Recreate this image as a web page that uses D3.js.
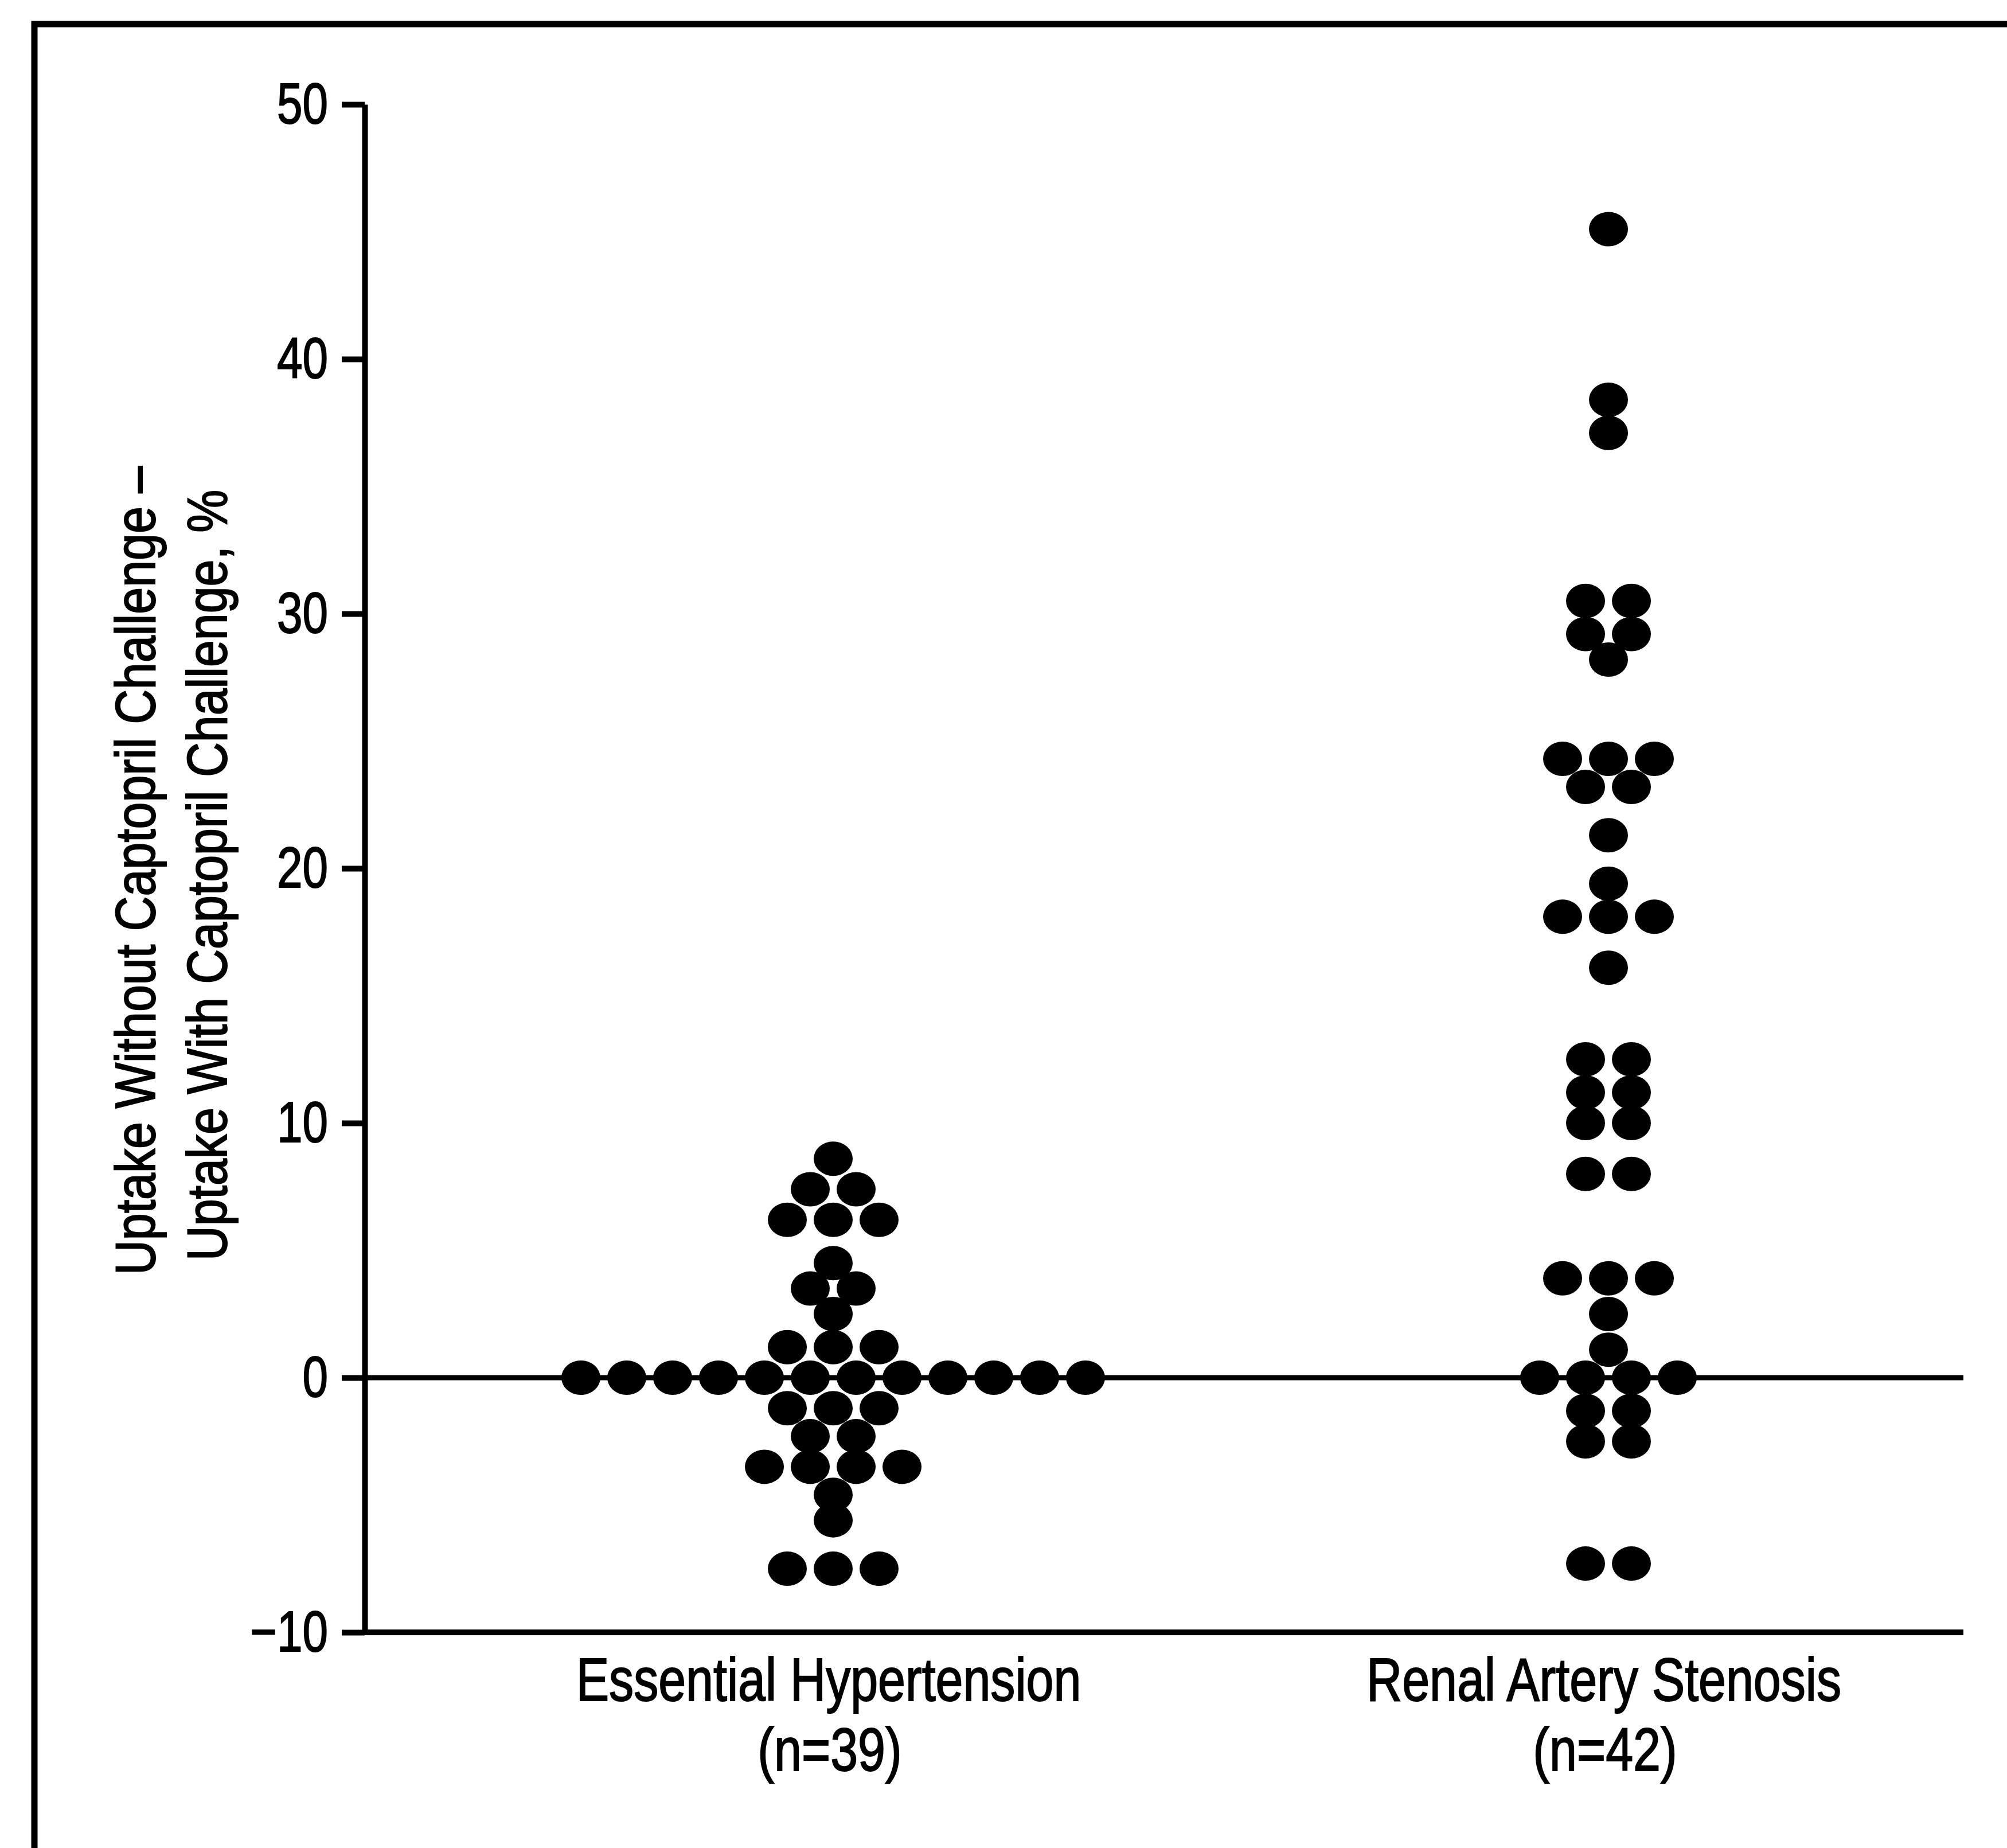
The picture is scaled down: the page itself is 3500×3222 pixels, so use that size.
<!DOCTYPE html>
<html>
<head>
<meta charset="utf-8">
<script src="https://cdn.jsdelivr.net/npm/d3@7"></script>
<style>
  body { margin: 0; background: #fff; }
  svg text { font-family: 'Liberation Sans', Arial, sans-serif; fill: #000; stroke: #000; stroke-width: 2px; }
</style>
</head>
<body>
<svg id="chart" width="3500" height="3222"></svg>
<script>
// categories along the x axis, and their sample sizes
const groups = ['Essential Hypertension', 'Renal Artery Stenosis'];
const groupCounts = ['(n=39)', '(n=42)'];
const yTicks = [-10, 0, 10, 20, 30, 40, 50];
const titleLines = ['Uptake Without Captopril Challenge \u2013', 'Uptake With Captopril Challenge, %'];

// uptake without captopril - uptake with captopril, %, one value per patient
const essentialHypertension = [
    8.6,
    7.4, 7.4,
    6.2, 6.2, 6.2,
    4.5,
    3.5, 3.5,
    2.5,
    1.2, 1.2, 1.2,
    0, 0, 0, 0, 0, 0, 0, 0, 0, 0, 0, 0,
    -1.2, -1.2, -1.2,
    -2.3, -2.3,
    -3.5, -3.5, -3.5, -3.5,
    -4.6,
    -5.6,
    -7.5, -7.5, -7.5
];
const renalArteryStenosis = [
    45.1,
    38.4,
    37.1,
    30.5, 30.5,
    29.2, 29.2,
    28.2,
    24.3, 24.3, 24.3,
    23.2, 23.2,
    21.3,
    19.4,
    18.1, 18.1, 18.1,
    16.1,
    12.5, 12.5,
    11.2, 11.2,
    10.0, 10.0,
    8.0, 8.0,
    3.9, 3.9, 3.9,
    2.5,
    1.1,
    0, 0, 0, 0,
    -1.3, -1.3,
    -2.5, -2.5,
    -7.3, -7.3
];

// Dots with the same value sit side by side, centred on the group.
function stackRows(values, group){
    let out = [];
    d3.group(values, v => v).forEach(function(vals, v){
        vals.forEach(function(_, i){
            out.push({group: group, value: v, slot: i - (vals.length - 1) / 2});
        });
    });
    return out;
}

// The original uses a condensed face; squeeze the text horizontally.
function condense(selection, k){
    selection.each(function(){
        let w = this.getComputedTextLength();
        d3.select(this)
            .attr('textLength', w * k)
            .attr('lengthAdjust', 'spacingAndGlyphs');
    });
}

let svg = d3.select('#chart');

let plotLeft = 636;
let plotRight = 3424;
let slotWidth = 80;

let yScale = d3.scaleLinear()
    .domain([-10, 50])
    .range([2846, 182]);

let xScale = d3.scalePoint()
    .domain(groups)
    .range([1453, 2805]);

// outer frame of the scanned figure (top and left edges only)
svg.append('path')
    .attr('d', 'M60,3222V42H3500')
    .attr('fill', 'none')
    .attr('stroke', '#000')
    .attr('stroke-width', 11);

// y axis
let yAxis = svg.append('g')
    .attr('transform', 'translate(' + plotLeft + ',0)')
    .call(d3.axisLeft(yScale)
        .tickValues(yTicks)
        .tickSize(40)
        .tickSizeOuter(0)
        .tickPadding(24));
yAxis.attr('font-size', 100).attr('font-family', null);
yAxis.selectAll('line, path').attr('stroke', '#000').attr('stroke-width', 10);
yAxis.selectAll('text').call(condense, 0.8);

// bottom axis line and the zero reference line
svg.append('line')
    .attr('x1', plotLeft).attr('x2', plotRight)
    .attr('y1', yScale(-10)).attr('y2', yScale(-10))
    .attr('stroke', '#000').attr('stroke-width', 10);
svg.append('line')
    .attr('x1', plotLeft).attr('x2', plotRight)
    .attr('y1', yScale(0)).attr('y2', yScale(0))
    .attr('stroke', '#000').attr('stroke-width', 9);

// the dots
let dots = stackRows(essentialHypertension, groups[0])
    .concat(stackRows(renalArteryStenosis, groups[1]));

svg.append('g')
    .selectAll('ellipse')
    .data(dots)
    .enter()
    .append('ellipse')
        .attr('cx', d => xScale(d.group) + d.slot * slotWidth)
        .attr('cy', d => yScale(d.value))
        .attr('rx', 34)
        .attr('ry', 30)
        .attr('fill', '#000');

// category labels
let labels = svg.append('g')
    .attr('font-size', 105)
    .attr('text-anchor', 'middle');
labels.selectAll('text.name')
    .data(groups).enter()
    .append('text')
        .attr('class', 'name')
        .attr('x', d => xScale(d) - 8)
        .attr('y', 2965)
        .text(d => d)
        .call(condense, 0.82);
labels.selectAll('text.count')
    .data(groups).enter()
    .append('text')
        .attr('class', 'count')
        .attr('x', d => xScale(d) - 6)
        .attr('y', 3087)
        .text((d, i) => groupCounts[i])
        .call(condense, 0.82);

// y axis title, two rotated lines
svg.append('g')
    .attr('font-size', 98)
    .attr('text-anchor', 'middle')
    .selectAll('text')
    .data(titleLines).enter()
    .append('text')
        .attr('transform', (d, i) => 'translate(' + (270 + i * 125) + ',' + (1518 + i * 8) + ') rotate(-90)')
        .text(d => d)
        .call(condense, 0.86);
</script>
</body>
</html>
